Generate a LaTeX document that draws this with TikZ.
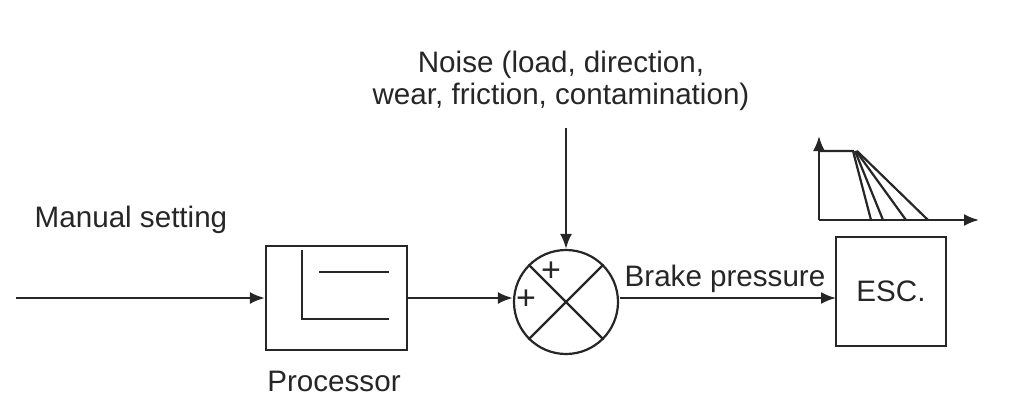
\documentclass[tikz,border=0pt]{standalone}
\usepackage{fontspec}
\setmainfont{Liberation Sans}
\usetikzlibrary{arrows.meta}
\begin{document}
\begin{tikzpicture}[x=0.5pt,y=-0.5pt,
  ln/.style={line width=1.1pt,draw=black!85},
  arr/.style={ln,-{Latex[length=7.5pt,width=6pt]}},
  lbl/.style={font=\fontsize{14.8}{16}\selectfont,text=black!85,inner sep=0pt}]
\useasboundingbox (0,0) rectangle (1024,413);
% blocks
\node[ln,draw,minimum width=70.5pt,minimum height=52pt,inner sep=0pt] (proc) at (336.5,298) {};
\node[ln,draw,minimum width=55pt,minimum height=54.5pt,inner sep=0pt,lbl] (esc) at (891,291.5) {ESC.};
\node[ln,draw,circle,minimum size=52pt,inner sep=0pt] (sum) at (566,302) {};
% processor inner symbol
\draw[ln] (302,250) -- (302,319) -- (389,319);
\draw[ln] (319,272) -- (389,272);
% X in circle
\draw[ln] (sum.north west) -- (sum.south east);
\draw[ln] (sum.north east) -- (sum.south west);
\node[lbl,font=\fontsize{17}{17}\selectfont] (p1) at (551,272) {+};
\node[lbl,font=\fontsize{17}{17}\selectfont] (p2) at (526,300) {+};
% texts
\node[lbl,align=center] (noise) at (561,81) {Noise (load, direction,\\wear, friction, contamination)};
\node[lbl] (manual) at (131,220) {Manual setting};
\node[lbl] (proclbl) at (334,381) {Processor};
\node[lbl] (brake) at (725,279) {Brake pressure};
% connectors
\coordinate (in) at (16,298);
\coordinate (ntop) at (566,128);
\coordinate (bstart) at (620,298);
\coordinate (bend) at (836,298);
\draw[arr] (in) -- (proc.west);
\draw[arr] (proc.east) -- (sum.west |- proc.east);
\draw[arr] (ntop) -- (sum.north);
\draw[arr] (bstart) -- (bend);
% graph
\coordinate (o) at (819,220);
\coordinate (yt) at (819,136);
\coordinate (xt) at (979,220);
\draw[arr] (o) -- (yt);
\draw[arr] (o) -- (xt);
\draw[ln] (819,151) -- (853,151) -- (871,220);
\draw[ln] (855,151) -- (883,220);
\draw[ln] (856,151) -- (906,220);
\draw[ln] (857,151) -- (928,220);
\end{tikzpicture}
\end{document}
